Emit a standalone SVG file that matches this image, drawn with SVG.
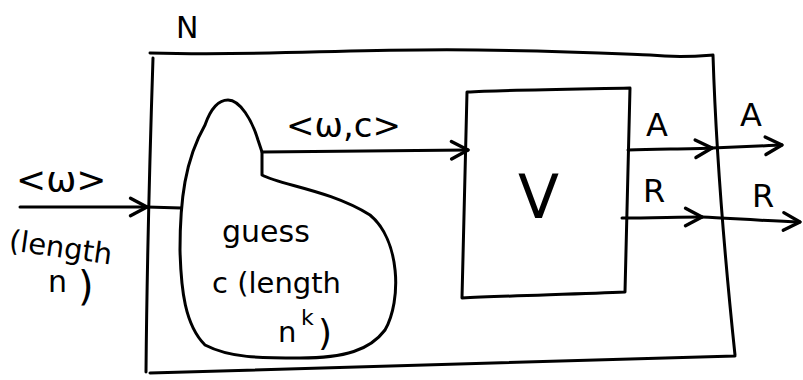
<svg xmlns="http://www.w3.org/2000/svg" width="803" height="380" viewBox="0 0 803 380">
<style>
.ln{fill:none;stroke:#000;stroke-width:3;stroke-linecap:round;stroke-linejoin:round}
.t{font-family:"DejaVu Sans","Liberation Sans",sans-serif;fill:#000}
</style>
<defs>
<marker id="ah" viewBox="0 0 20 20" refX="18" refY="10" markerWidth="22" markerHeight="22" markerUnits="userSpaceOnUse" orient="auto">
<path d="M3,2 L18,10 L3,18" fill="none" stroke="#000" stroke-width="3" stroke-linecap="round" stroke-linejoin="round"/>
</marker>
</defs>
<rect width="803" height="380" fill="#fff"/>
<g id="N">
<path class="ln" d="M150,53 C260,56 330,50 420,50 C520,49 600,53 650,55 C680,58 700,56 713,55 M153,58 C150,150 147,260 146,372 M713,55 C716,150 725,260 735,355 M150,373 C300,370 480,365 735,356"/>
<text class="t" x="176" y="38" font-size="30">N</text>
</g>
<g id="guess">
<path class="ln" d="M262,152 L262,175 C280,185 330,190 370,215 C400,240 402,300 385,330 C370,350 345,358 300,358 C260,358 230,358 205,345 C185,325 181,290 180,250 C180,200 185,160 205,125 C212,105 220,100 228,100 C240,100 252,120 258,140 Z"/>
<text class="t" x="222" y="242" font-size="30">guess</text>
<text class="t" x="212" y="293" font-size="29">c (length</text>
<text class="t" x="278" y="342" font-size="29">n</text>
<text class="t" x="301" y="325" font-size="22">k</text>
<text class="t" x="318" y="345" font-size="36">)</text>
</g>
<g id="V">
<path class="ln" d="M467,92 C500,90 580,89 630,88 L625,292 C580,294 500,296 462,298 Z"/>
<text class="t" x="518" y="218" font-size="60">V</text>
</g>
<g id="connectors">
<path class="ln" d="M20,207 L147,207" marker-end="url(#ah)"/>
<path class="ln" d="M147,207 L181,208"/>
<path class="ln" d="M262,152 C330,151 400,151 468,150" marker-end="url(#ah)"/>
<path class="ln" d="M628,150 C660,149 690,149 712,148" marker-end="url(#ah)"/>
<path class="ln" d="M712,148 C740,147 760,146 782,145" marker-end="url(#ah)"/>
<path class="ln" d="M622,218 C650,218 680,217 702,217" marker-end="url(#ah)"/>
<path class="ln" d="M702,217 C740,219 770,221 800,222" marker-end="url(#ah)"/>
<text class="t" x="16" y="192" font-size="36">&lt;ω&gt;</text>
<text class="t" x="8" y="250" font-size="29" transform="rotate(8 8 250)">(length</text>
<text class="t" x="48" y="292" font-size="30">n</text>
<text class="t" x="78" y="300" font-size="40">)</text>
<text class="t" x="286" y="137" font-size="34">&lt;ω,c&gt;</text>
<text class="t" x="646" y="136" font-size="32">A</text>
<text class="t" x="740" y="126" font-size="32">A</text>
<text class="t" x="643" y="202" font-size="32">R</text>
<text class="t" x="752" y="207" font-size="32">R</text>
</g>
</svg>
